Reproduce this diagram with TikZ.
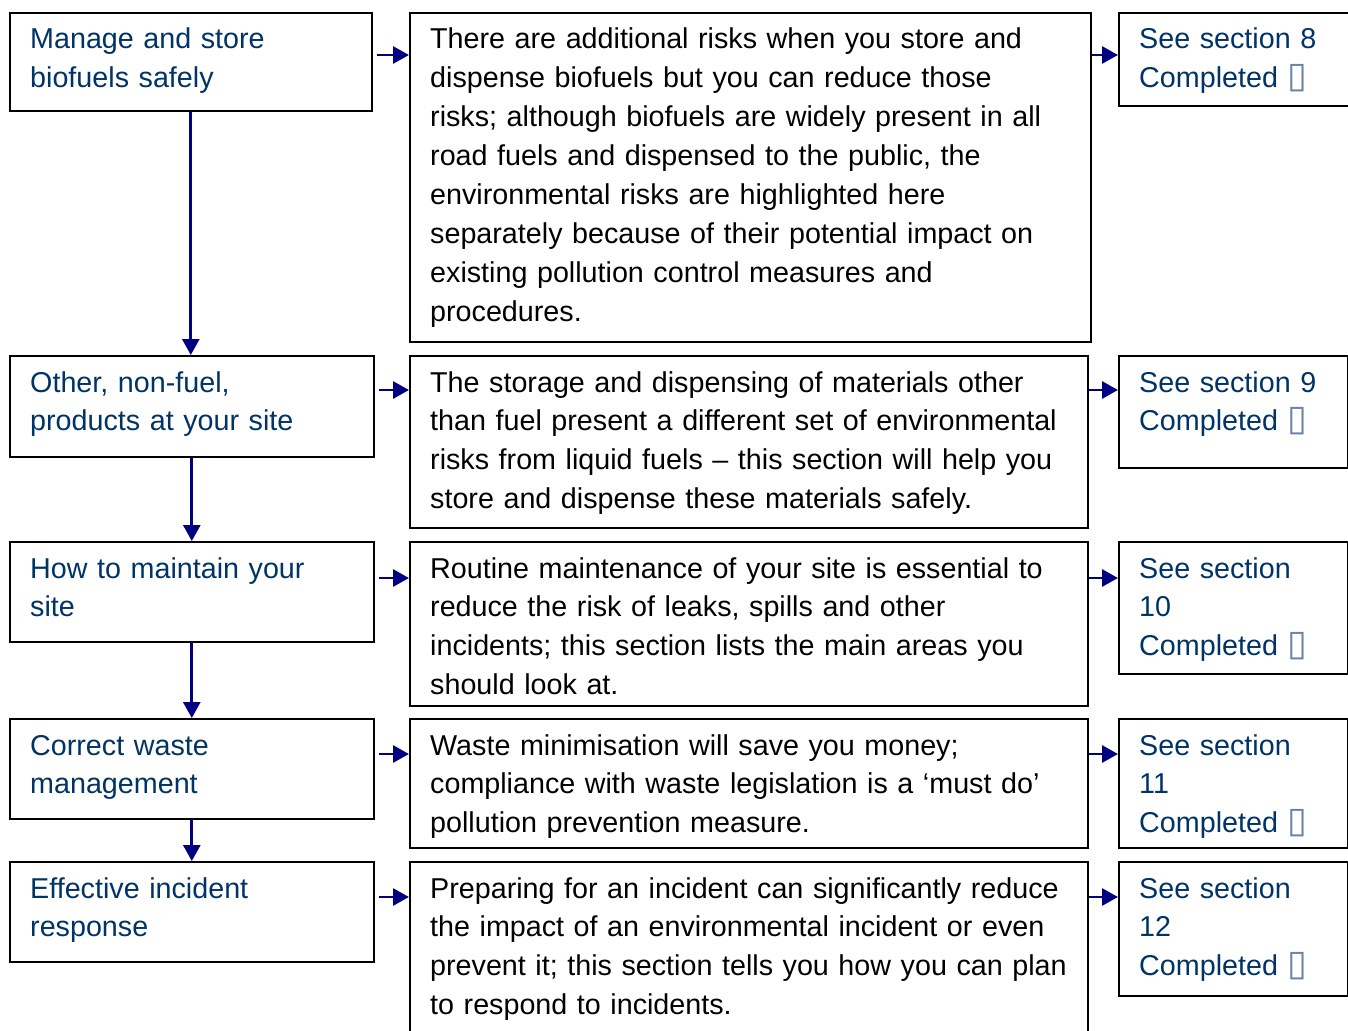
\documentclass[tikz,border=0pt]{standalone}
\usepackage{fontspec}
\setmainfont{Liberation Sans}
\newfontfamily\symbfont{DejaVu Sans}
\usepackage{xcolor}
\definecolor{navytext}{RGB}{0,51,102}
\definecolor{navyarrow}{RGB}{0,0,128}
\definecolor{tofu}{RGB}{105,130,165}
\usepackage{tikz}
\usetikzlibrary{arrows.meta}
\newcommand{\tickbox}{{\symbfont\fontsize{36}{36}\selectfont\color{tofu}▯}}

\begin{document}
\begin{tikzpicture}[x=1pt,y=-1pt,
  box/.style={draw=black,line width=1.6pt,anchor=north west,inner sep=0pt},
  boxtext/.style={anchor=base west,inner sep=0pt,align=left,font=\fontsize{28.7}{38.9}\selectfont},
  topic/.style={boxtext,text=navytext,text width=340pt},
  info/.style={boxtext,text=black,text width=660pt},
  see/.style={boxtext,text=navytext,text width=220pt},
  link/.style={draw=navyarrow,line width=2.8pt,-{Triangle[length=16pt,width=17pt]}}]
\useasboundingbox (0,0) rectangle (1348,1030);

% left column
\node[box,minimum width=362pt,minimum height=98pt] (bio) at (9,12) {};
\node[box,minimum width=364pt,minimum height=101pt] (other) at (9,355) {};
\node[box,minimum width=364pt,minimum height=100pt] (maint) at (9,541) {};
\node[box,minimum width=364pt,minimum height=100pt] (waste) at (9,718) {};
\node[box,minimum width=364pt,minimum height=100pt] (incid) at (9,861) {};

% middle column
\node[box,minimum width=681pt,minimum height=329pt] (bioinfo) at (409,12) {};
\node[box,minimum width=678pt,minimum height=172pt] (otherinfo) at (409,355) {};
\node[box,minimum width=678pt,minimum height=164pt] (maintinfo) at (409,541) {};
\node[box,minimum width=678pt,minimum height=129pt] (wasteinfo) at (409,718) {};
\node[box,minimum width=678pt,minimum height=190pt] (incidinfo) at (409,861) {};

% right column
\node[box,minimum width=250pt,minimum height=93pt] (biosee) at (1118,12) {};
\node[box,minimum width=229pt,minimum height=112pt] (othersee) at (1118,355) {};
\node[box,minimum width=229pt,minimum height=132pt] (maintsee) at (1118,541) {};
\node[box,minimum width=229pt,minimum height=129pt] (wastesee) at (1118,718) {};
\node[box,minimum width=229pt,minimum height=134pt] (incidsee) at (1118,861) {};

% texts
\node[topic] (biotext) at ([xshift=21pt,yshift=-37pt]bio.north west) {Manage and store\\biofuels safely};
\node[topic] (othertext) at ([xshift=21pt,yshift=-37pt]other.north west) {Other, non-fuel,\\products at your site};
\node[topic] (mainttext) at ([xshift=21pt,yshift=-37pt]maint.north west) {How to maintain your\\site};
\node[topic] (wastetext) at ([xshift=21pt,yshift=-37pt]waste.north west) {Correct waste\\management};
\node[topic] (incidtext) at ([xshift=21pt,yshift=-37pt]incid.north west) {Effective incident\\response};

\node[info] (bioinfotext) at ([xshift=21pt,yshift=-37pt]bioinfo.north west) {There are additional risks when you store and\\dispense biofuels but you can reduce those\\risks; although biofuels are widely present in all\\road fuels and dispensed to the public, the\\environmental risks are highlighted here\\separately because of their potential impact on\\existing pollution control measures and\\procedures.};
\node[info] (otherinfotext) at ([xshift=21pt,yshift=-37pt]otherinfo.north west) {The storage and dispensing of materials other\\than fuel present a different set of environmental\\risks from liquid fuels – this section will help you\\store and dispense these materials safely.};
\node[info] (maintinfotext) at ([xshift=21pt,yshift=-37pt]maintinfo.north west) {Routine maintenance of your site is essential to\\reduce the risk of leaks, spills and other\\incidents; this section lists the main areas you\\should look at.};
\node[info] (wasteinfotext) at ([xshift=21pt,yshift=-37pt]wasteinfo.north west) {Waste minimisation will save you money;\\compliance with waste legislation is a ‘must do’\\pollution prevention measure.};
\node[info] (incidinfotext) at ([xshift=21pt,yshift=-37pt]incidinfo.north west) {Preparing for an incident can significantly reduce\\the impact of an environmental incident or even\\prevent it; this section tells you how you can plan\\to respond to incidents.};

\node[see] (biosectext) at ([xshift=21pt,yshift=-37pt]biosee.north west) {See section 8\\Completed \tickbox};
\node[see] (othersectext) at ([xshift=21pt,yshift=-37pt]othersee.north west) {See section 9\\Completed \tickbox};
\node[see] (maintsectext) at ([xshift=21pt,yshift=-37pt]maintsee.north west) {See section\\10\\Completed \tickbox};
\node[see] (wastesectext) at ([xshift=21pt,yshift=-37pt]wastesee.north west) {See section\\11\\Completed \tickbox};
\node[see] (incidsectext) at ([xshift=21pt,yshift=-37pt]incidsee.north west) {See section\\12\\Completed \tickbox};

% arrows across
\foreach \row/\dy in {bio/43,other/35,maint/37,waste/36,incid/36}{
  \coordinate (\row arrow) at ([yshift=-\dy pt]\row.north east);
  \draw[link] ([xshift=4pt]\row arrow) -- (\row arrow -| \row info.west);
  \draw[link] (\row arrow -| \row info.east) -- (\row arrow -| \row see.west);
}

% arrows down
\draw[link] (bio.south) -- (bio.south |- other.north);
\draw[link] (other.south) -- (maint.north);
\draw[link] (maint.south) -- (waste.north);
\draw[link] (waste.south) -- (incid.north);
\end{tikzpicture}
\end{document}
